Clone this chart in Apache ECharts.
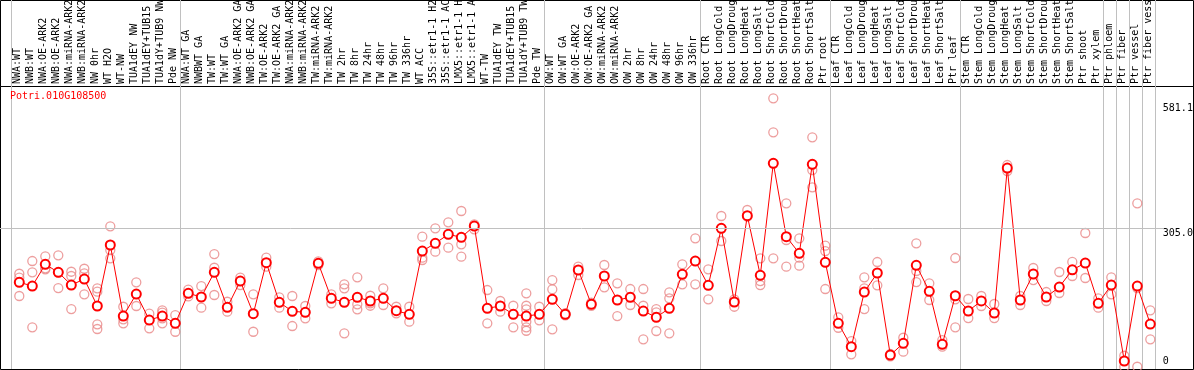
<!DOCTYPE html>
<html><head><meta charset="utf-8">
<script src="https://cdn.jsdelivr.net/npm/echarts@6/dist/echarts.min.js"></script>
<style>html,body{margin:0;padding:0;background:#fff;}#c{width:1194px;height:370px;}</style>
</head><body><div id="c"></div>
<script>
const chartTitle = 'Potri.010G108500';
const categories = [
 'NWA:WT','NWB:WT','NWA:OE-ARK2','NWB:OE-ARK2','NWA:miRNA-ARK2','NWB:miRNA-ARK2','NW 0hr','WT H2O','WT-NW','TUA1dEY NW','TUA1dEY+TUB15','TUA1dY+TUB9 NW','Pde NW',
 'NWA:WT GA','NWBWT GA','TW:WT','TW:WT GA','NWA:OE-ARK2 GA','NWB:OE-ARK2 GA','TW:OE-ARK2','TW:OE-ARK2 GA','NWA:miRNA-ARK2','NWB:miRNA-ARK2','TW:miRNA-ARK2','TW:miRNA-ARK2',
 'TW 2hr','TW 8hr','TW 24hr','TW 48hr','TW 96hr','TW 336hr','WT ACC','35S::etr1-1 H2','35S::etr1-1 AC','LMX5::etr1-1 H','LMX5::etr1-1 A','WT-TW','TUA1dEY TW','TUA1dEY+TUB15','TUA1dY+TUB9 TW','Pde TW',
 'OW:WT','OW:WT GA','OW:OE-ARK2','OW:OE-ARK2 GA','OW:miRNA-ARK2','OW:miRNA-ARK2','OW 2hr','OW 8hr','OW 24hr','OW 48hr','OW 96hr','OW 336hr',
 'Root CTR','Root LongCold','Root LongDroug','Root LongHeat','Root LongSalt','Root ShortCold','Root ShortDrou','Root ShortHeat','Root ShortSalt','Ptr root',
 'Leaf CTR','Leaf LongCold','Leaf LongDroug','Leaf LongHeat','Leaf LongSalt','Leaf ShortCold','Leaf ShortDrou','Leaf ShortHeat','Leaf ShortSalt','Ptr leaf',
 'Stem CTR','Stem LongCold','Stem LongDroug','Stem LongHeat','Stem LongSalt','Stem ShortCold','Stem ShortDrou','Stem ShortHeat','Stem ShortSalt','Ptr shoot',
 'Ptr xylem','Ptr phloem','Ptr fiber','Ptr vessel','Ptr fiber vess'
];
const means = [
 186.0,177.8,225.6,208.0,180.0,193.2,133.8,268.2,111.7,160.2,102.9,111.7,95.6,
 161.7,153.6,208.0,130.9,188.8,116.8,229.2,141.9,122.1,119.9,227.8,150.7,
 141.9,152.9,144.8,150.7,123.4,115.5,254.9,271.9,291.7,285.1,310.0,128.7,133.8,115.5,111.7,115.5,
 148.5,115.5,213.1,137.5,199.9,147.0,152.9,122.7,108.9,128.7,203.6,232.9,
 179.4,305.0,142.6,332.7,201.4,448.2,286.5,249.9,446.0,230.0,
 95.6,44.1,164.6,206.5,25.8,51.6,223.4,166.1,49.4,156.4,
 122.8,145.0,118.4,437.8,147.0,204.3,153.6,175.6,213.4,228.5,
 139.7,180.0,12.6,177.8,94.1
];
const replicates = [
 [204.9,196.1,155.8],[232.9,208,86.8],[243.3,216.8,214.6],[245.5,208,173.4],[209.3,199.9,127.1],[215.9,205.8,159.5],
 [172.8,165.3,93.4,83.1],[309.4,257.1,238.9],[132.2,104.4,95.6],[186,133.8],[116.8,84.6],[124.3,119,106.6,95.6],[113.9,77.1],
 [170,155],[177.8,130],[248.3,218.1,158],[143.2,121.2],[196.1,180],[159.5,77.1],[240.2,220.4],[152.9,130],[155.8,89.7],[133.8,106.6],[232,224],[159.5,139.7],
 [181.6,172.8,73.6],[197,137.5,126.5],[156.4,139.7,134.4],[172.8,136],[132.2,117.7],[132.2,99.2],[286.5,240.2,235.1],[305,253.4],[318.2,262.2],[343.1,269.7,242.4],[313.8,302.8],
 [169,95.6],[144.8,121.2],[134.4,86.8],[161.7,134.4,126.5,99.2,86.8,79.3],[132.2,102.2],
 [191,170.6,82.4],[118,113],[220.4,202.1],[141,134],[224.1,175],[183.8,111.7],[171.2,136],[171.2,134.4,60.4],[127.1,119.9,78.7],[163.9,150.7,73.6],[225.6,181.6],[282.9,181.6],
 [214.6,148.5],[332.1,277],[148.5,132.2],[345.3,330.5],[238.9,188.8,180],[591.4,516.5,238.9],[360,279.2,220.4],[282.9,240.2,222.6],[505.5,433.4,395.3],[266.6,254.9,171.2],
 [108.9,85.9],[56.6,27.3],[197,172.8,127.1],[230.7,179.4],[28,23],[63.9,33.1],[271.9,210.9,186.6],[183.8,147],[58.8,44.1],[239.5,148.5,86.8],
 [149.2,107.3],[155.8,133.8],[138.2,107.3],[444.4,431.2],[155.8,136],[217.5,191],[164.6,144.8],[208.7,162.4],[231,199.9],[294.6,195.5],
 [150.7,130],[197,159.5],[24.2,0],[360,173.4,0],[124.3,60.4]
];
const yTickLabels = [0, 305.0, 581.1];
const groupStartIndex = [0, 13, 41, 53, 63, 73, 84, 85, 86, 87];

const MONO = "'DejaVu Sans Mono', monospace";
const Y_MIN = -5, Y_MAX = 618.5;
const GRID_GRAY = '#c0c0c0';
const sepFn = (idx) => groupStartIndex.indexOf(idx) >= 0;
const repData = [];
replicates.forEach((arr, i) => arr.forEach(v => repData.push([i, v])));
const fmt = v => v === 0 ? '0' : Number(v).toFixed(1);

const chart = echarts.init(document.getElementById('c'), null, {renderer: 'canvas'});
chart.setOption({
  animation: false,
  backgroundColor: '#fff',
  title: {text: chartTitle, left: 10, top: 91, padding: 0,
    textStyle: {color: '#ff0000', fontSize: 10, fontWeight: 'normal', fontFamily: MONO}},
  grid: [
    {left: 11, top: 86, width: 1144, height: 283, outerBoundsMode: 'none', containLabel: false},
    {left: 11, top: 0, width: 1144, height: 86, outerBoundsMode: 'none', containLabel: false},
    {left: 0, top: 86, width: 1163, height: 283, outerBoundsMode: 'none', containLabel: false},
    {left: 0.5, top: 0.5, width: 1193, height: 86, show: true, borderColor: '#000', borderWidth: 1, backgroundColor: 'transparent', outerBoundsMode: 'none'},
    {left: 0.5, top: 86.5, width: 1193, height: 283, show: true, borderColor: '#000', borderWidth: 1, backgroundColor: 'transparent', outerBoundsMode: 'none'},
    {left: 12.8, top: 86, width: 1144, height: 283, outerBoundsMode: 'none', containLabel: false}
  ],
  xAxis: [
    {type: 'category', gridIndex: 0, data: categories, position: 'top', boundaryGap: true,
     axisLine: {show: false}, axisTick: {show: false},
     axisLabel: {interval: 0, rotate: 90, margin: 2, padding: [3, 0, 0, 0], fontFamily: MONO, fontSize: 10, color: '#000'},
     splitLine: {show: true, interval: sepFn, lineStyle: {color: GRID_GRAY, width: 1}}},
    {type: 'category', gridIndex: 1, data: categories, boundaryGap: true,
     axisLine: {show: false}, axisTick: {show: false}, axisLabel: {show: false},
     splitLine: {show: true, interval: sepFn, lineStyle: {color: GRID_GRAY, width: 1}}},
    {type: 'value', gridIndex: 2, min: 0, max: 1, show: false},
    {type: 'value', gridIndex: 3, min: 0, max: 1, show: false},
    {type: 'value', gridIndex: 4, min: 0, max: 1, show: false},
    {type: 'category', gridIndex: 5, data: categories, boundaryGap: true, show: false}
  ],
  yAxis: [
    {type: 'value', gridIndex: 0, min: Y_MIN, max: Y_MAX, show: false},
    {type: 'value', gridIndex: 1, show: false},
    {type: 'value', gridIndex: 2, min: Y_MIN, max: Y_MAX, show: false},
    {type: 'value', gridIndex: 3, show: false},
    {type: 'value', gridIndex: 4, show: false},
    {type: 'value', gridIndex: 5, min: Y_MIN, max: Y_MAX, position: 'right',
     axisLine: {show: false}, axisTick: {show: false}, splitLine: {show: false},
     axisLabel: {customValues: yTickLabels.filter(v => v !== 0), margin: 6, verticalAlign: 'top', lineHeight: 10,
       fontFamily: MONO, fontSize: 10, color: '#000', formatter: fmt}},
    {type: 'value', gridIndex: 5, min: Y_MIN, max: Y_MAX, position: 'right',
     axisLine: {show: false}, axisTick: {show: false}, splitLine: {show: false},
     axisLabel: {customValues: yTickLabels.filter(v => v === 0), margin: 6, verticalAlign: 'bottom', lineHeight: 10,
       fontFamily: MONO, fontSize: 10, color: '#000', formatter: fmt}}
  ],
  series: [
    {type: 'scatter', xAxisIndex: 2, yAxisIndex: 2, data: [], silent: true,
     markLine: {silent: true, symbol: 'none', label: {show: false}, animation: false,
       lineStyle: {color: GRID_GRAY, width: 1, type: 'solid'}, data: [{yAxis: yTickLabels[1]}]}},
    {type: 'scatter', xAxisIndex: 5, yAxisIndex: 5, data: repData, symbol: 'circle', symbolSize: 9, z: 2,
     itemStyle: {color: 'rgba(0,0,0,0)', borderColor: '#e98686', borderWidth: 1.3}},
    {type: 'line', xAxisIndex: 5, yAxisIndex: 5, data: means, symbol: 'emptyCircle', symbolSize: 9, z: 3,
     showSymbol: true, showAllSymbol: true,
     itemStyle: {color: '#ff0000', borderWidth: 1.6}, lineStyle: {color: '#ff0000', width: 1}}
  ]
});
</script></body></html>
